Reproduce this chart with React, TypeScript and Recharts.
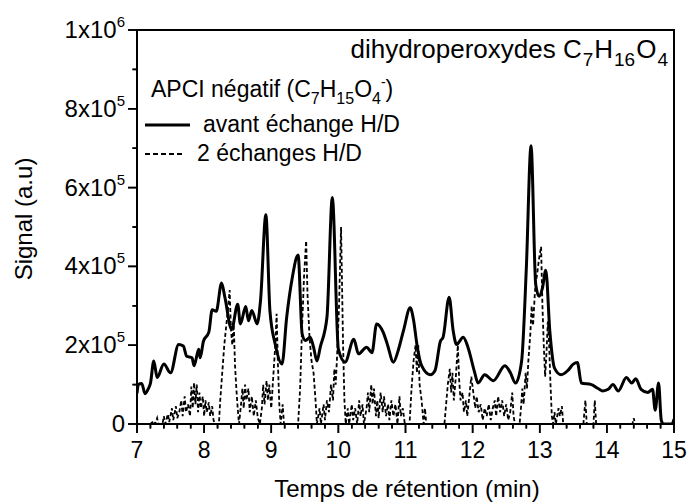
import React from 'react';
import { LineChart, Line, XAxis, YAxis, ReferenceArea } from 'recharts';

// ---- Data (retention time in min, signal in a.u.) ----
const solidTime = [
  7.0, 7.02, 7.07, 7.12, 7.17, 7.2, 7.25, 7.3, 7.4, 7.5, 7.62, 7.69, 7.74, 7.82, 7.85, 7.92, 7.94, 7.99,
  8.07, 8.12, 8.18, 8.26, 8.31, 8.41, 8.5, 8.54, 8.62, 8.66, 8.71, 8.79, 8.84, 8.92, 8.98, 9.06, 9.16,
  9.23, 9.31, 9.4, 9.46, 9.51, 9.58, 9.63, 9.68, 9.73, 9.83, 9.91, 10.0, 10.1, 10.23, 10.3, 10.42, 10.5,
  10.57, 10.67, 10.73, 10.82, 10.89, 10.97, 11.07, 11.12, 11.17, 11.24, 11.37, 11.44, 11.52, 11.56,
  11.65, 11.71, 11.76, 11.86, 11.93, 12.03, 12.08, 12.18, 12.31, 12.48, 12.56, 12.64, 12.73, 12.8,
  12.87, 12.94, 12.99, 13.04, 13.09, 13.15, 13.22, 13.32, 13.42, 13.5, 13.56, 13.62, 13.77, 13.87,
  13.94, 14.02, 14.09, 14.17, 14.29, 14.37, 14.43, 14.51, 14.61, 14.68, 14.72, 14.77, 14.81, 14.84,
  14.97, 15.0,
];
const solidSignal = [
  78000, 100000, 103000, 77000, 90000, 103000, 160000, 118000, 152000, 130000, 202000, 198000, 172000,
  168000, 148000, 190000, 168000, 210000, 233000, 290000, 286000, 358000, 321000, 240000, 304000,
  254000, 298000, 262000, 288000, 254000, 313000, 531000, 288000, 202000, 152000, 271000, 368000,
  429000, 229000, 212000, 220000, 195000, 160000, 195000, 271000, 575000, 190000, 157000, 215000,
  178000, 195000, 181000, 254000, 232000, 202000, 157000, 186000, 237000, 295000, 264000, 202000,
  148000, 125000, 136000, 210000, 220000, 322000, 237000, 202000, 220000, 195000, 131000, 104000,
  125000, 110000, 148000, 131000, 104000, 160000, 395000, 706000, 354000, 324000, 345000, 390000,
  236000, 142000, 125000, 136000, 152000, 156000, 104000, 100000, 90000, 84000, 88000, 100000, 84000,
  118000, 104000, 115000, 88000, 80000, 88000, 35000, 104000, 10000, 0, 0, 12000,
];

const dashTime = [
  7.0, 7.2, 7.25, 7.27, 7.3, 7.32, 7.38, 7.4, 7.42, 7.46, 7.48, 7.52, 7.54, 7.58, 7.6, 7.63, 7.66, 7.68,
  7.71, 7.73, 7.76, 7.79, 7.81, 7.83, 7.85, 7.87, 7.89, 7.91, 7.93, 7.95, 7.98, 8.0, 8.02, 8.04, 8.07,
  8.09, 8.12, 8.14, 8.16, 8.22, 8.24, 8.27, 8.3, 8.33, 8.36, 8.38, 8.4, 8.42, 8.44, 8.46, 8.48, 8.5,
  8.52, 8.55, 8.57, 8.59, 8.61, 8.63, 8.66, 8.68, 8.71, 8.74, 8.77, 8.8, 8.83, 8.86, 8.88, 8.9, 8.93,
  8.95, 8.97, 9.0, 9.03, 9.06, 9.08, 9.1, 9.12, 9.14, 9.17, 9.19, 9.4, 9.43, 9.46, 9.49, 9.52, 9.54,
  9.57, 9.6, 9.63, 9.66, 9.68, 9.72, 9.74, 9.78, 9.8, 9.83, 9.86, 9.89, 9.92, 9.94, 9.96, 9.98, 10.01,
  10.04, 10.07, 10.09, 10.11, 10.14, 10.16, 10.2, 10.22, 10.25, 10.28, 10.31, 10.33, 10.36, 10.38,
  10.42, 10.44, 10.46, 10.49, 10.51, 10.53, 10.56, 10.58, 10.6, 10.63, 10.66, 10.68, 10.71, 10.74,
  10.76, 10.79, 10.82, 10.85, 10.88, 10.91, 10.93, 10.96, 10.99, 11.06, 11.09, 11.12, 11.15, 11.17,
  11.19, 11.21, 11.24, 11.27, 11.29, 11.31, 11.58, 11.61, 11.63, 11.66, 11.68, 11.7, 11.72, 11.75,
  11.78, 11.8, 11.82, 11.85, 11.87, 11.9, 11.92, 11.95, 11.98, 12.01, 12.04, 12.06, 12.09, 12.12,
  12.15, 12.18, 12.21, 12.24, 12.27, 12.3, 12.33, 12.35, 12.38, 12.41, 12.44, 12.47, 12.5, 12.53,
  12.56, 12.59, 12.61, 12.63, 12.7, 12.72, 12.74, 12.76, 12.79, 12.81, 12.83, 12.86, 12.88, 12.9,
  12.93, 12.96, 12.99, 13.02, 13.04, 13.06, 13.08, 13.1, 13.12, 13.14, 13.16, 13.18, 13.2, 13.22,
  13.24, 13.28, 13.3, 13.33, 13.35, 13.65, 13.68, 13.7, 13.8, 13.82, 13.84, 14.38, 14.4, 14.42, 15.0,
];
const dashSignal = [
  0, 0, 8000, 0, 15000, 0, 0, 20000, 0, 25000, 5000, 40000, 10000, 45000, 15000, 30000, 60000, 20000,
  70000, 30000, 50000, 20000, 95000, 40000, 105000, 50000, 100000, 30000, 80000, 40000, 70000, 20000,
  60000, 30000, 55000, 20000, 45000, 10000, 0, 0, 60000, 130000, 200000, 250000, 300000, 340000,
  240000, 200000, 260000, 150000, 90000, 40000, 0, 50000, 90000, 40000, 100000, 60000, 90000, 30000,
  70000, 20000, 60000, 15000, 0, 40000, 100000, 50000, 110000, 60000, 100000, 40000, 120000, 200000,
  280000, 150000, 50000, 0, 50000, 0, 0, 90000, 250000, 380000, 465000, 330000, 220000, 160000,
  130000, 60000, 0, 40000, 0, 50000, 10000, 60000, 30000, 100000, 60000, 140000, 100000, 170000,
  300000, 500000, 200000, 60000, 0, 40000, 0, 50000, 10000, 40000, 0, 60000, 20000, 50000, 0, 40000,
  80000, 30000, 100000, 50000, 90000, 20000, 60000, 15000, 80000, 30000, 70000, 20000, 50000, 10000,
  60000, 20000, 50000, 0, 70000, 20000, 40000, 0, 0, 90000, 160000, 200000, 130000, 200000, 100000,
  60000, 0, 40000, 0, 0, 60000, 100000, 140000, 80000, 130000, 60000, 120000, 200000, 110000, 60000,
  80000, 30000, 60000, 20000, 70000, 120000, 80000, 40000, 70000, 30000, 50000, 10000, 40000, 20000,
  50000, 10000, 40000, 60000, 20000, 70000, 30000, 60000, 20000, 50000, 10000, 30000, 80000, 20000,
  0, 0, 40000, 90000, 50000, 130000, 90000, 160000, 230000, 300000, 250000, 340000, 380000, 420000,
  450000, 300000, 200000, 120000, 180000, 260000, 200000, 100000, 20000, 0, 30000, 0, 40000, 20000,
  45000, 0, 0, 60000, 0, 0, 60000, 0, 0, 15000, 0, 0,
];

const xMajorTicks = [7, 8, 9, 10, 11, 12, 13, 14, 15];
const yMajorTicks = [0, 200000, 400000, 600000, 800000, 1000000];
const yMinorTicks = [100000, 300000, 500000, 700000, 900000];

const titleText = 'dihydroperoxydes C';
const modeText = 'APCI négatif (C';
const seriesNames = ['avant échange H/D', '2 échanges H/D'];
const xTitle = 'Temps de rétention (min)';
const yTitle = 'Signal (a.u)';

// ---- derived tables ----
const solidData = solidTime.map((t, i) => ({ t, v: solidSignal[i] }));
const dashData = dashTime.map((t, i) => ({ t, v: dashSignal[i] }));
const xTicks: number[] = [];
xMajorTicks.forEach((m, i) => {
  xTicks.push(m);
  if (i < xMajorTicks.length - 1) {
    for (let k = 1; k < 5; k++) xTicks.push(Math.round((m + k * 0.2) * 10) / 10);
  }
});
const yTicks = [...yMajorTicks, ...yMinorTicks].sort((a, b) => a - b);

// plot box (from chart margins)
const W = 689;
const H = 503;
const M = { top: 30, right: 15, left: 0, bottom: 29 };
const Y_AXIS_W = 137;
const X_AXIS_H = 50;
const PL = M.left + Y_AXIS_W;
const PT = M.top;
const PW = W - M.right - PL;
const PH = H - M.bottom - X_AXIS_H - PT;

const FONT = "'Liberation Sans', Arial, Helvetica, sans-serif";
const INK = '#000';

const XTick = (props: any) => {
  const x = Number(props.x);
  const y = Number(props.y);
  const v = props.payload.value;
  const major = xMajorTicks.includes(v);
  return (
    <g>
      <line x1={x} x2={x} y1={y} y2={y + (major ? 9 : 4.5)} stroke={INK} strokeWidth={1.6} />
      {major && (
        <text x={x} y={y + 34} textAnchor="middle" fontSize={23} fontFamily={FONT} fill={INK} stroke="none">
          {v}
        </text>
      )}
    </g>
  );
};

const YTick = (props: any) => {
  const x = Number(props.x);
  const y = Number(props.y);
  const v = props.payload.value;
  const major = yMajorTicks.includes(v);
  let label: React.ReactNode = null;
  if (major) {
    if (v === 0) {
      label = <tspan>0</tspan>;
    } else {
      const exp = v >= 1000000 ? 6 : 5;
      const mant = Math.round(v / Math.pow(10, exp));
      label = (
        <>
          <tspan>{`${mant}x10`}</tspan>
          <tspan dy={-11} fontSize={15}>{exp}</tspan>
        </>
      );
    }
  }
  return (
    <g>
      <line x1={x - (major ? 9 : 4.5)} x2={x} y1={y} y2={y} stroke={INK} strokeWidth={1.6} />
      {major && (
        <text x={x - 12} y={y + 8} textAnchor="end" fontSize={24} fontFamily={FONT} fill={INK} stroke="none">
          {label}
        </text>
      )}
    </g>
  );
};

const Sub = ({ children, size = 16, shift = 7, dx = 0 }: any) => (
  <tspan dy={shift} dx={dx} fontSize={size}>{children}</tspan>
);

export default function App() {
  const yPix = (v: number) => PT + PH * (1 - v / 1000000);
  const xPix = (t: number) => PL + (PW * (t - 7)) / 8;
  return (
    <div style={{ position: 'absolute', left: 0, top: 0, width: W, height: H, background: '#fff' }}>
      <div style={{ position: 'absolute', left: 0, top: 0 }}>
        <LineChart width={W} height={H} margin={M}>
          <XAxis
            dataKey="t"
            type="number"
            domain={[7, 15]}
            ticks={xTicks}
            interval={0}
            tickSize={0}
            tickMargin={0}
            tickLine={false}
            tick={<XTick />}
            height={X_AXIS_H}
            axisLine={{ stroke: INK, strokeWidth: 2 }}
            allowDataOverflow
          />
          <YAxis
            dataKey="v"
            type="number"
            domain={[0, 1000000]}
            ticks={yTicks}
            interval={0}
            tickSize={0}
            tickMargin={0}
            tickLine={false}
            tick={<YTick />}
            width={Y_AXIS_W}
            axisLine={{ stroke: INK, strokeWidth: 2 }}
            allowDataOverflow
          />
          <ReferenceArea
            x1={7}
            x2={15}
            y1={0}
            y2={1000000}
            fill="none"
            fillOpacity={0}
            stroke={INK}
            strokeWidth={2}
            strokeOpacity={1}
            ifOverflow="visible"
          />
          <Line
            data={dashData}
            dataKey="v"
            type="linear"
            stroke={INK}
            strokeWidth={1.8}
            strokeDasharray="4 2.5"
            dot={false}
            isAnimationActive={false}
          />
          <Line
            data={solidData}
            dataKey="v"
            type="monotone"
            stroke={INK}
            strokeWidth={3}
            dot={false}
            isAnimationActive={false}
          />
        </LineChart>
      </div>
      <svg
        width={W}
        height={H}
        style={{ position: 'absolute', left: 0, top: 0, pointerEvents: 'none' }}
        fontFamily={FONT}
        fill={INK}
      >
        {/* frame and ticks reinforced on top */}
        <rect x={PL} y={PT} width={PW} height={PH} fill="none" stroke={INK} strokeWidth={2} />
        {yTicks.map((v) => (
          <line
            key={`yt${v}`}
            x1={PL - (yMajorTicks.includes(v) ? 9 : 4.5)}
            x2={PL}
            y1={yPix(v)}
            y2={yPix(v)}
            stroke={INK}
            strokeWidth={1.6}
          />
        ))}
        {xTicks.map((t) => (
          <line
            key={`xt${t}`}
            x1={xPix(t)}
            x2={xPix(t)}
            y1={PT + PH}
            y2={PT + PH + (xMajorTicks.includes(t) ? 9 : 4.5)}
            stroke={INK}
            strokeWidth={1.6}
          />
        ))}
        <text x={668} y={58} fontSize={26} textAnchor="end">
          <tspan>{titleText}</tspan>
          <Sub size={19} shift={8} dx={1}>7</Sub>
          <tspan dy={-8} dx={1}>H</tspan>
          <Sub size={19} shift={8} dx={1}>16</Sub>
          <tspan dy={-8} dx={1}>O</tspan>
          <Sub size={19} shift={8} dx={1}>4</Sub>
        </text>
        <text x={151} y={97} fontSize={23}>
          <tspan>{modeText}</tspan>
          <Sub size={16} shift={7}>7</Sub>
          <tspan dy={-7}>H</tspan>
          <Sub size={16} shift={7}>15</Sub>
          <tspan dy={-7}>O</tspan>
          <Sub size={16} shift={7}>4</Sub>
          <tspan dy={-17} fontSize={14}>-</tspan>
          <tspan dy={10}>)</tspan>
        </text>
        <line x1={145} x2={190} y1={125} y2={125} stroke={INK} strokeWidth={3} />
        <text x={203} y={132} fontSize={23}>{seriesNames[0]}</text>
        <line x1={145} x2={185} y1={154} y2={154} stroke={INK} strokeWidth={1.8} strokeDasharray="5 3" />
        <text x={197} y={161} fontSize={23}>{seriesNames[1]}</text>
        <text x={407} y={497} fontSize={24} textAnchor="middle">{xTitle}</text>
        <text x={32} y={219} fontSize={24} textAnchor="middle" transform="rotate(-90 32 219)">{yTitle}</text>
      </svg>
    </div>
  );
}
